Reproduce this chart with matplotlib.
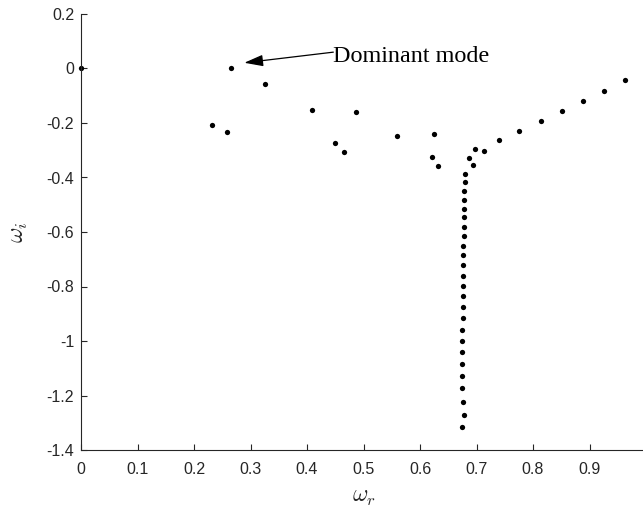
import matplotlib
matplotlib.use("Agg")
import matplotlib.pyplot as plt
import numpy as np

plt.rcParams['axes.unicode_minus'] = False
plt.rcParams['mathtext.fontset'] = 'cm'

# Eigenvalue spectrum: real part (omega_r) and imaginary part (omega_i)
omega_r_scattered = [0.0, 0.265, 0.326, 0.231, 0.258, 0.408, 0.449, 0.465, 0.487,
                     0.559, 0.625, 0.621, 0.631, 0.697, 0.713, 0.687, 0.693,
                     0.739, 0.776, 0.814, 0.851, 0.889, 0.926, 0.963]
omega_i_scattered = [0.0, 0.0, -0.056, -0.208, -0.232, -0.153, -0.272, -0.306, -0.161,
                     -0.246, -0.240, -0.323, -0.358, -0.297, -0.301, -0.327, -0.355,
                     -0.264, -0.229, -0.192, -0.155, -0.119, -0.081, -0.044]

omega_r_branch = [0.680, 0.680, 0.678, 0.678, 0.677, 0.677, 0.677, 0.677, 0.676,
                  0.676, 0.676, 0.676, 0.676, 0.676, 0.676, 0.676, 0.675, 0.675,
                  0.675, 0.675, 0.675, 0.675, 0.676, 0.677, 0.675]
omega_i_branch = [-0.388, -0.418, -0.450, -0.482, -0.514, -0.546, -0.580, -0.614,
                  -0.650, -0.685, -0.722, -0.760, -0.798, -0.836, -0.876, -0.916,
                  -0.958, -0.999, -1.042, -1.086, -1.130, -1.174, -1.223, -1.272, -1.316]

x_ticks = [0, 0.1, 0.2, 0.3, 0.4, 0.5, 0.6, 0.7, 0.8, 0.9, 1]
x_tick_labels = ['0', '0.1', '0.2', '0.3', '0.4', '0.5', '0.6', '0.7', '0.8', '0.9', '1']
y_ticks = [-1.4, -1.2, -1, -0.8, -0.6, -0.4, -0.2, 0, 0.2]
y_tick_labels = ['-1.4', '-1.2', '-1', '-0.8', '-0.6', '-0.4', '-0.2', '0', '0.2']

annotation_text = 'Dominant mode'

fig = plt.figure(figsize=(6.43, 5.15), dpi=100)
ax = fig.add_axes([81/643, 65/515, 565/643, 436/515])

axis_color = '#262626'
ax.plot(omega_r_scattered + omega_r_branch, omega_i_scattered + omega_i_branch,
        linestyle='none', marker='o', markersize=3.8, color='black',
        markeredgewidth=0, clip_on=False)

ax.set_xlim(0, 1)
ax.set_ylim(-1.4, 0.2)
ax.set_xticks(x_ticks)
ax.set_xticklabels(x_tick_labels)
ax.set_yticks(y_ticks)
ax.set_yticklabels(y_tick_labels)

for s in ['top', 'right']:
    ax.spines[s].set_visible(False)
for s in ['left', 'bottom']:
    ax.spines[s].set_color(axis_color)
    ax.spines[s].set_linewidth(0.8)

ax.tick_params(direction='in', length=4, width=0.8, color=axis_color,
               labelsize=11.5, labelcolor=axis_color)
ax.tick_params(axis='x', pad=9)
ax.tick_params(axis='y', pad=5)
for lab in ax.get_xticklabels() + ax.get_yticklabels():
    lab.set_family('Liberation Sans')

ax.set_xlabel(r'$\omega_r$', fontsize=17, color=axis_color, labelpad=5)
ax.set_ylabel(r'$\omega_i$', fontsize=17, color=axis_color, labelpad=12)

ax.text(0.4466, 0.023, annotation_text, fontsize=17.4, family='Liberation Serif',
        ha='left', va='baseline', color='black')
ax.annotate('', xy=(0.289, 0.021), xytext=(0.4466, 0.060),
            textcoords='data',
            arrowprops=dict(arrowstyle='-|>,head_length=1.15,head_width=0.35',
                            color='black', lw=0.9, shrinkA=0, shrinkB=0))

fig.savefig('out.png', dpi=100)
